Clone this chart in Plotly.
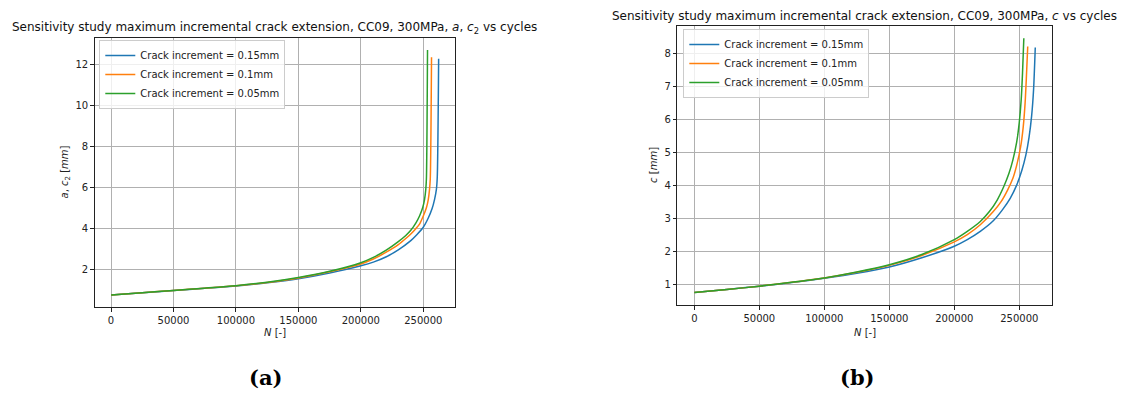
import plotly.graph_objects as go

# ---------------- data ----------------
labels = ["Crack increment = 0.15mm", "Crack increment = 0.1mm", "Crack increment = 0.05mm"]
colors = ["#1f77b4", "#ff7f0e", "#2ca02c"]

# (a) a, c2 vs cycles
n_a_015 = [0, 25000, 50000, 75000, 100000, 125000, 150000, 175000, 200000, 210000, 220000,
           230000, 240000, 245000, 250000, 254000, 257000, 259000, 260500, 261200, 262300]
a_015 = [0.75, 0.85, 0.96, 1.07, 1.19, 1.34, 1.54, 1.82, 2.17, 2.35, 2.6,
         2.95, 3.4, 3.7, 4.05, 4.5, 4.95, 5.4, 5.9, 6.5, 12.27]

n_a_010 = [0, 25000, 50000, 75000, 100000, 125000, 150000, 175000, 200000, 210000, 220000,
           230000, 236000, 240000, 244000, 247000, 250000, 252500, 254000, 255000, 255600, 256600]
a_010 = [0.75, 0.86, 0.97, 1.08, 1.2, 1.36, 1.58, 1.88, 2.26, 2.5, 2.82,
         3.2, 3.5, 3.72, 3.98, 4.2, 4.6, 5.0, 5.4, 5.9, 6.4, 12.34]

n_a_005 = [0, 25000, 50000, 75000, 100000, 125000, 150000, 175000, 200000, 210000, 220000,
           230000, 236000, 240000, 244000, 247000, 249500, 251000, 252000, 252500, 253400]
a_005 = [0.75, 0.86, 0.97, 1.08, 1.2, 1.37, 1.6, 1.9, 2.32, 2.58, 2.92,
         3.35, 3.65, 3.9, 4.25, 4.6, 5.0, 5.4, 5.9, 6.4, 12.7]

# (b) c vs cycles
n_c_015 = [0, 25000, 50000, 75000, 100000, 125000, 150000, 175000, 200000, 210000, 220000,
           230000, 237000, 243000, 248000, 252000, 255000, 257500, 259500, 261000, 262300]
c_015 = [0.75, 0.84, 0.94, 1.05, 1.18, 1.33, 1.52, 1.8, 2.15, 2.35, 2.6,
         2.92, 3.25, 3.6, 4.0, 4.45, 4.9, 5.45, 6.1, 6.9, 8.17]

n_c_010 = [0, 25000, 50000, 75000, 100000, 125000, 150000, 175000, 200000, 210000, 220000,
           230000, 236000, 241000, 245000, 248000, 251000, 253000, 254500, 255500, 256500]
c_010 = [0.75, 0.84, 0.94, 1.06, 1.19, 1.36, 1.57, 1.87, 2.28, 2.5, 2.8,
         3.2, 3.5, 3.85, 4.2, 4.6, 5.15, 5.75, 6.5, 7.3, 8.2]

n_c_005 = [0, 25000, 50000, 75000, 100000, 125000, 150000, 175000, 200000, 210000, 220000,
           227000, 233000, 238000, 242000, 245000, 248000, 250000, 251500, 252500, 253500]
c_005 = [0.75, 0.84, 0.94, 1.06, 1.19, 1.37, 1.59, 1.9, 2.35, 2.6, 2.9,
         3.2, 3.55, 3.95, 4.35, 4.75, 5.3, 5.9, 6.6, 7.4, 8.45]

x_ticks = [0, 50000, 100000, 150000, 200000, 250000]
y_ticks_a = [2, 4, 6, 8, 10, 12]
y_ticks_c = [1, 2, 3, 4, 5, 6, 7, 8]

title_a = "Sensitivity study maximum incremental crack extension, CC09, 300MPa, <i>a</i>, <i>c</i><sub>2</sub> vs cycles"
title_c = "Sensitivity study maximum incremental crack extension, CC09, 300MPa, <i>c</i> vs cycles"

# ---------------- figure ----------------
W, H = 1137, 399
FONT = "DejaVu Sans"
fig = go.Figure()

series_a = [(n_a_015, a_015), (n_a_010, a_010), (n_a_005, a_005)]
series_c = [(n_c_015, c_015), (n_c_010, c_010), (n_c_005, c_005)]

for (xs, ys), lab, col in zip(series_a, labels, colors):
    fig.add_trace(go.Scatter(x=xs, y=ys, mode="lines", name=lab,
                             line=dict(color=col, width=1.5, shape="spline", smoothing=0.7),
                             xaxis="x", yaxis="y", legend="legend"))
for (xs, ys), lab, col in zip(series_c, labels, colors):
    fig.add_trace(go.Scatter(x=xs, y=ys, mode="lines", name=lab,
                             line=dict(color=col, width=1.5, shape="spline", smoothing=0.7),
                             xaxis="x2", yaxis="y2", legend="legend2"))

def px_x(p):
    return p / W

def px_y(p):
    return 1 - p / H

axis_common = dict(
    showgrid=True, gridcolor="#b0b0b0", gridwidth=0.8,
    showline=True, linecolor="#222222", linewidth=1, mirror=True,
    ticks="outside", ticklen=3.5, tickwidth=0.8, tickcolor="#222222",
    zeroline=False, tickfont=dict(family=FONT, size=10, color="#222222"),
)

legend_common = dict(xanchor="left", yanchor="top", itemwidth=30,
                     bgcolor="rgba(255,255,255,0.8)", bordercolor="#cccccc", borderwidth=1,
                     font=dict(family=FONT, size=10, color="#222222"))

fig.update_layout(
    width=W, height=H,
    margin=dict(l=0, r=0, t=0, b=0),
    paper_bgcolor="white", plot_bgcolor="white",
    font=dict(family=FONT, size=10, color="#222222"),
    xaxis=dict(domain=[px_x(94.7), px_x(455)], range=[-13100, 275400],
               tickvals=x_ticks, tickformat="d", anchor="y", **axis_common),
    yaxis=dict(domain=[px_y(307), px_y(38)], range=[0.16, 13.28],
               tickvals=y_ticks_a, anchor="x", **axis_common),
    xaxis2=dict(domain=[px_x(677.3), px_x(1052.3)], range=[-13100, 275400],
                tickvals=x_ticks, tickformat="d", anchor="y2", **axis_common),
    yaxis2=dict(domain=[px_y(305), px_y(25.7)], range=[0.37, 8.83],
                tickvals=y_ticks_c, anchor="x2", **axis_common),
    legend=dict(x=px_x(99.3), y=px_y(40), **legend_common),
    legend2=dict(x=px_x(683.3), y=px_y(29), **legend_common),
    showlegend=True,
)

ann = []
# titles
ann.append(dict(text=title_a, x=px_x(274.9), y=px_y(28), xref="paper", yref="paper",
                xanchor="center", yanchor="middle", showarrow=False,
                font=dict(family=FONT, size=12, color="#111111")))
ann.append(dict(text=title_c, x=px_x(864.8), y=px_y(15.5), xref="paper", yref="paper",
                xanchor="center", yanchor="middle", showarrow=False,
                font=dict(family=FONT, size=12, color="#111111")))
# axis titles
ann.append(dict(text="<i>N</i> [-]", x=px_x(274.9), y=px_y(332.5), xref="paper", yref="paper",
                xanchor="center", yanchor="middle", showarrow=False,
                font=dict(family=FONT, size=10, color="#222222")))
ann.append(dict(text="<i>N</i> [-]", x=px_x(864.8), y=px_y(332.5), xref="paper", yref="paper",
                xanchor="center", yanchor="middle", showarrow=False,
                font=dict(family=FONT, size=10, color="#222222")))
ann.append(dict(text="<i>a</i>, <i>c</i><sub>2</sub> [<i>mm</i>]", x=px_x(65), y=px_y(172.5),
                xref="paper", yref="paper", xanchor="center", yanchor="middle",
                showarrow=False, textangle=-90,
                font=dict(family=FONT, size=10, color="#222222")))
ann.append(dict(text="<i>c</i> [<i>mm</i>]", x=px_x(653.5), y=px_y(165.4),
                xref="paper", yref="paper", xanchor="center", yanchor="middle",
                showarrow=False, textangle=-90,
                font=dict(family=FONT, size=10, color="#222222")))
# sub-captions
ann.append(dict(text="<b>(a)</b>", x=px_x(265), y=px_y(377), xref="paper", yref="paper",
                xanchor="center", yanchor="middle", showarrow=False,
                font=dict(family="DejaVu Serif", size=21, color="#000000")))
ann.append(dict(text="<b>(b)</b>", x=px_x(857), y=px_y(377), xref="paper", yref="paper",
                xanchor="center", yanchor="middle", showarrow=False,
                font=dict(family="DejaVu Serif", size=21, color="#000000")))
fig.update_layout(annotations=ann)

fig.write_html("out.html")
